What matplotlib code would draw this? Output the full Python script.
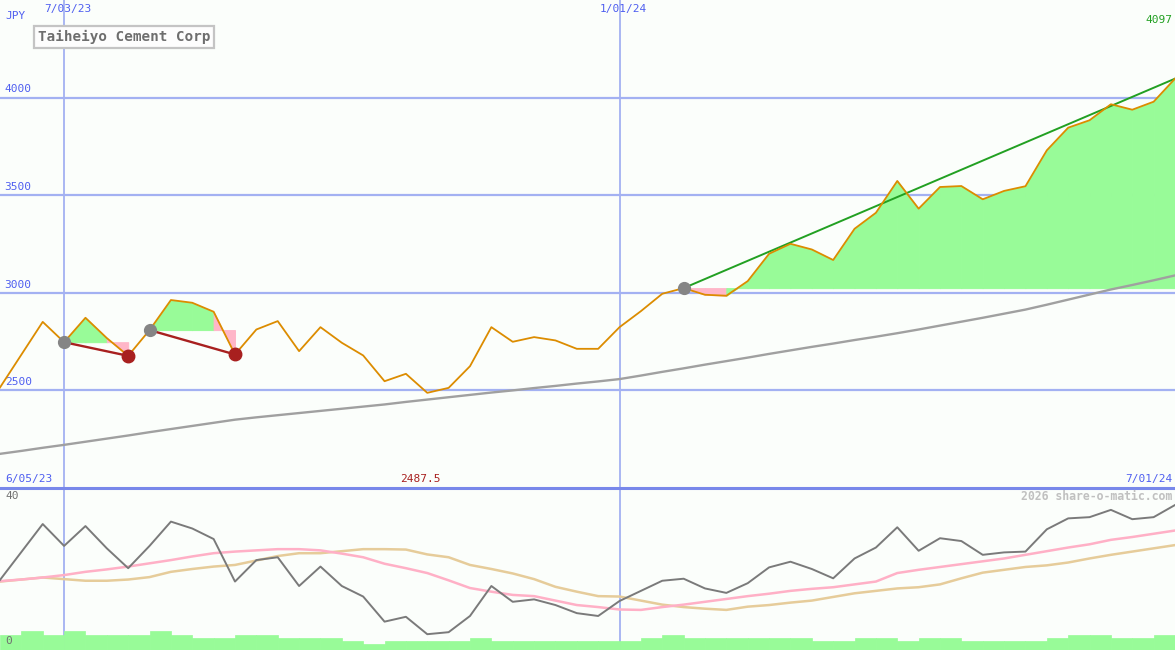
import numpy as np
import pandas as pd
import matplotlib
matplotlib.use('Agg')
import matplotlib.pyplot as plt

# weekly closes, 12 Jun 2023 .. 1 Jul 2024
weeks = pd.date_range('2023-06-12', periods=56, freq='7D')
price = [2515, 2683, 2851, 2747, 2872, 2768, 2677, 2809, 2963, 2949,
         2903, 2684, 2812, 2855, 2701, 2824, 2744, 2679, 2547, 2585,
         2487.5, 2513, 2624, 2824, 2749, 2773, 2756, 2713, 2713, 2824,
         2906, 2995, 3024, 2990, 2985, 3060, 3200, 3251, 3222, 3168,
         3328, 3410, 3573, 3431, 3542, 3547, 3479, 3522, 3546, 3730,
         3846, 3884, 3966, 3938, 3979, 4097]
ma_long = [2175, 2190, 2206, 2221, 2237, 2253, 2269, 2286, 2302, 2318,
           2334, 2350, 2362, 2373, 2384, 2395, 2406, 2417, 2428, 2441,
           2453, 2465, 2477, 2489, 2500, 2512, 2523, 2535, 2546, 2558,
           2576, 2595, 2613, 2632, 2650, 2668, 2687, 2705, 2723, 2740,
           2758, 2775, 2793, 2812, 2832, 2852, 2872, 2893, 2914, 2939,
           2965, 2991, 3017, 3040, 3064, 3089]

# lower panel
osc = [17.3, 24.2, 31.1, 25.7, 30.6, 25.1, 20.2, 25.7, 31.7, 30.0,
       27.4, 16.9, 22.2, 22.9, 15.8, 20.6, 15.8, 13.2, 7.0, 8.2,
       3.9, 4.4, 8.4, 15.8, 11.9, 12.5, 11.1, 9.1, 8.4, 12.1,
       14.6, 17.1, 17.6, 15.2, 14.1, 16.5, 20.4, 21.8, 20.0, 17.7,
       22.6, 25.3, 30.3, 24.5, 27.6, 26.9, 23.5, 24.1, 24.3, 29.8,
       32.5, 32.8, 34.6, 32.3, 32.8, 35.8]
osc_fast = [17.0, 17.4, 17.9, 18.5, 19.3, 19.9, 20.6, 21.4, 22.2, 23.1,
            23.9, 24.3, 24.6, 24.9, 24.9, 24.6, 23.8, 22.9, 21.3, 20.2,
            19.0, 17.2, 15.3, 14.4, 13.6, 13.3, 12.2, 11.1, 10.6, 10.0,
            9.9, 10.6, 11.2, 11.9, 12.6, 13.3, 13.9, 14.6, 15.1, 15.5,
            16.2, 16.9, 19.0, 19.8, 20.5, 21.2, 21.9, 22.6, 23.5, 24.4,
            25.3, 26.1, 27.2, 27.9, 28.7, 29.5]
osc_slow = [16.9, 17.4, 17.9, 17.5, 17.1, 17.1, 17.4, 18.0, 19.3, 20.0,
            20.6, 21.0, 22.1, 23.2, 23.9, 23.9, 24.4, 24.9, 24.9, 24.8,
            23.6, 22.9, 21.0, 20.0, 18.9, 17.5, 15.6, 14.4, 13.3, 13.2,
            12.2, 11.2, 10.6, 10.2, 9.9, 10.7, 11.1, 11.7, 12.2, 13.1,
            14.0, 14.6, 15.2, 15.5, 16.2, 17.7, 19.1, 19.8, 20.5, 20.9,
            21.6, 22.6, 23.5, 24.3, 25.1, 25.9]
vol = [3.7, 4.7, 3.7, 4.7, 3.7, 3.7, 3.7, 4.7, 3.7, 3.0,
       3.0, 3.7, 3.7, 3.0, 3.0, 3.0, 2.2, 1.5, 2.2, 2.2,
       2.2, 2.2, 3.0, 2.2, 2.2, 2.2, 2.2, 2.2, 2.2, 2.2,
       3.0, 3.7, 3.0, 3.0, 3.0, 3.0, 3.0, 3.0, 2.2, 2.2,
       3.0, 3.0, 2.2, 3.0, 3.0, 2.2, 2.2, 2.2, 2.2, 3.0,
       3.7, 3.7, 3.0, 3.0, 3.7]

# swing patterns: start week, end week
pat_start = [3, 7, 32]
pat_end = [6, 11, 55]

grid_levels = [2500, 3000, 3500, 4000]
date_lines = ['2023-07-03', '2024-01-01']

bg = '#fbfefb'
gridc = '#a3b1f2'
bluetxt = '#4f5ff0'
green = '#98fb98'
pink = '#ffb6c8'

W, H = 1175, 650
fig = plt.figure(figsize=(W/100, H/100), dpi=100, facecolor=bg)
top_h = 488
ax = fig.add_axes([0, 1 - top_h/H, 1, top_h/H], facecolor=bg)
ax2 = fig.add_axes([0, 0, 1, 1 - top_h/H], facecolor=bg)

price = np.array(price, dtype=float)
x = weeks

for a in (ax, ax2):
    for d in date_lines:
        a.axvline(pd.Timestamp(d), color=gridc, lw=1.3, zorder=1)
    a.set_xlim(weeks[0], weeks[-1])
    a.axis('off')

for g in grid_levels:
    ax.axhline(g, color=gridc, lw=1.6, zorder=1)
    ax.text(0.004, g + 16, str(g), transform=ax.get_yaxis_transform(),
            color=bluetxt, fontsize=8, family='DejaVu Sans Mono', va='bottom')

# fills and lines for each pattern
for s, e in zip(pat_start, pat_end):
    lvl = price[s]
    for i in range(s, e):
        c = green if price[i+1] >= lvl else pink
        ax.fill_between(x[i:i+2], price[i:i+2], lvl, facecolor=c, edgecolor=c,
                        lw=0.7, zorder=2)
    up = price[e] > lvl
    ax.plot([x[s], x[e]], [lvl, price[e]], color='#22a022' if up else '#a8201f',
            lw=1.4 if up else 1.7, zorder=4)

ax.plot(x, ma_long, color='#a0a0a0', lw=1.7, zorder=3)
ax.plot(x, price, color='#dc8c00', lw=1.3, zorder=4)

for s, e in zip(pat_start, pat_end):
    ax.plot(x[s], price[s], 'o', color='#858585', ms=8.5, zorder=5)
    if price[e] < price[s]:
        ax.plot(x[e], price[e], 'o', color='#a8201f', ms=9, zorder=5)

ax.set_ylim(2000, 4500)

# lower panel
ax2.bar(x[:-1], vol, width=7, align='edge', color=green, ec=green, lw=0.5, zorder=2)
ax2.plot(x, osc_slow, color='#e6cc9a', lw=1.8, zorder=3)
ax2.plot(x, osc_fast, color='#ffb0c6', lw=1.8, zorder=3)
ax2.plot(x, osc, color='#7a7a7a', lw=1.4, zorder=4)
ax2.set_ylim(0, 40)
ax2.set_xlim(weeks[0], weeks[-1])

# separator line
fig.add_artist(plt.Line2D([0, 1], [1 - 487.5/H] * 2, color='#7888ea', lw=2.2,
                          transform=fig.transFigure))

def px(xp, yp, s, **kw):
    fig.text(xp / W, 1 - yp / H, s, **kw)

mono = dict(family='DejaVu Sans Mono', fontsize=8)
px(5, 16, 'JPY', color=bluetxt, va='center', **mono)
px(68, 9, '7/03/23', color=bluetxt, ha='center', va='center', **mono)
px(623, 9, '1/01/24', color=bluetxt, ha='center', va='center', **mono)
px(1172, 20, '4097', color='#22a022', ha='right', va='center', **mono)
px(5, 479, '6/05/23', color=bluetxt, va='center', **mono)
px(420, 479, '2487.5', color='#a8201f', ha='center', va='center', **mono)
px(1172, 479, '7/01/24', color=bluetxt, ha='right', va='center', **mono)
px(5, 496, '40', color='#707070', va='center', **mono)
px(5, 641, '0', color='#707070', va='center', **mono)
px(1172, 496, '2026 share-o-matic.com', color='#c0c0c0', ha='right', va='center',
   family='DejaVu Sans Mono', fontsize=8.3, weight='bold')
px(38, 37, 'Taiheiyo Cement Corp', color='#6e6e6e', va='center',
   family='DejaVu Sans Mono', fontsize=10.3, weight='bold',
   bbox=dict(boxstyle='square,pad=0.25', fc='#fdfdfd', ec='#c4c4c4', lw=1.6))

fig.savefig('out.png', dpi=100, facecolor=bg)
